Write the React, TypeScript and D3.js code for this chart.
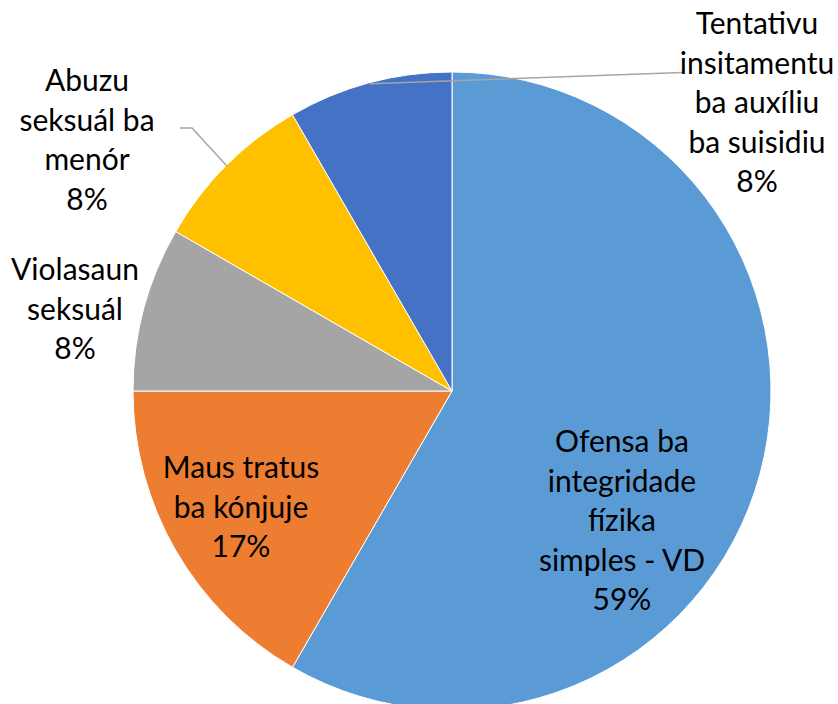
import React from "react";
import * as d3 from "d3";

// Data
const categories: string[][] = [
  ["Ofensa ba", "integridade", "fízika", "simples - VD"],
  ["Maus tratus", "ba kónjuje"],
  ["Violasaun", "seksuál"],
  ["Abuzu", "seksuál ba", "menór"],
  ["Tentativu", "insitamentu", "ba auxíliu", "ba suisidiu"],
];
const values: number[] = [7, 2, 1, 1, 1];
const percentLabels: string[] = ["59%", "17%", "8%", "8%", "8%"];
const colors: string[] = ["#5B9BD5", "#ED7D31", "#A5A5A5", "#FFC000", "#4472C4"];

// Layout
const W = 838;
const H = 704;
const CX = 452;
const CY = 391;
const R = 319;
const FONT = 30;
const LINE = 39.5;
// label anchor: center x, first baseline y
const labelPos: [number, number][] = [
  [622, 452],
  [241, 478],
  [75, 280],
  [87, 91],
  [757, 34],
];

export default function App() {
  React.useEffect(() => {
    document.body.style.margin = "0";
  }, []);
  const pie = d3
    .pie<number>()
    .sort(null)
    .value((d) => d)
    .startAngle(0)
    .endAngle(2 * Math.PI);
  const arcs = pie(values);
  const arc = d3.arc<d3.PieArcDatum<number>>().innerRadius(0).outerRadius(R);

  // leader lines from slice edge (mid-angle) to labels
  const edgePt = (i: number): [number, number] => {
    const a = arcs[i];
    const ang = (a.startAngle + a.endAngle) / 2;
    return [CX + Math.sin(ang) * (R - 1), CY - Math.cos(ang) * (R - 1)];
  };
  const leaderPts = (i: number): [number, number][] | null => {
    if (i === 4) return [edgePt(i), [682, 72.5]];
    if (i === 3) return [edgePt(i), [192, 128], [180, 128]];
    return null;
  };

  return (
    <svg width={W} height={H} style={{ display: "block" }}>
      <rect width={W} height={H} fill="#ffffff" />
      <g transform={`translate(${CX},${CY})`}>
        {arcs.map((a, i) => (
          <path key={i} d={arc(a) || ""} fill={colors[i]} stroke="#ffffff" strokeWidth={1} />
        ))}
      </g>
      {arcs.map((_, i) => {
        const pts = leaderPts(i);
        if (!pts) return null;
        return (
          <path
            key={"l" + i}
            d={d3.line()(pts) || ""}
            fill="none"
            stroke="#A6A6A6"
            strokeWidth={1.5}
          />
        );
      })}
      {categories.map((lines, i) => {
        const [x, y] = labelPos[i];
        const all = [...lines, percentLabels[i]];
        return (
          <text
            key={"t" + i}
            x={x}
            y={y}
            textAnchor="middle"
            fontFamily="Lato, 'Open Sans', sans-serif"
            fontSize={FONT}
            fill="#000000"
          >
            {all.map((s, j) => (
              <tspan key={j} x={x} y={y + j * LINE}>
                {s}
              </tspan>
            ))}
          </text>
        );
      })}
    </svg>
  );
}
